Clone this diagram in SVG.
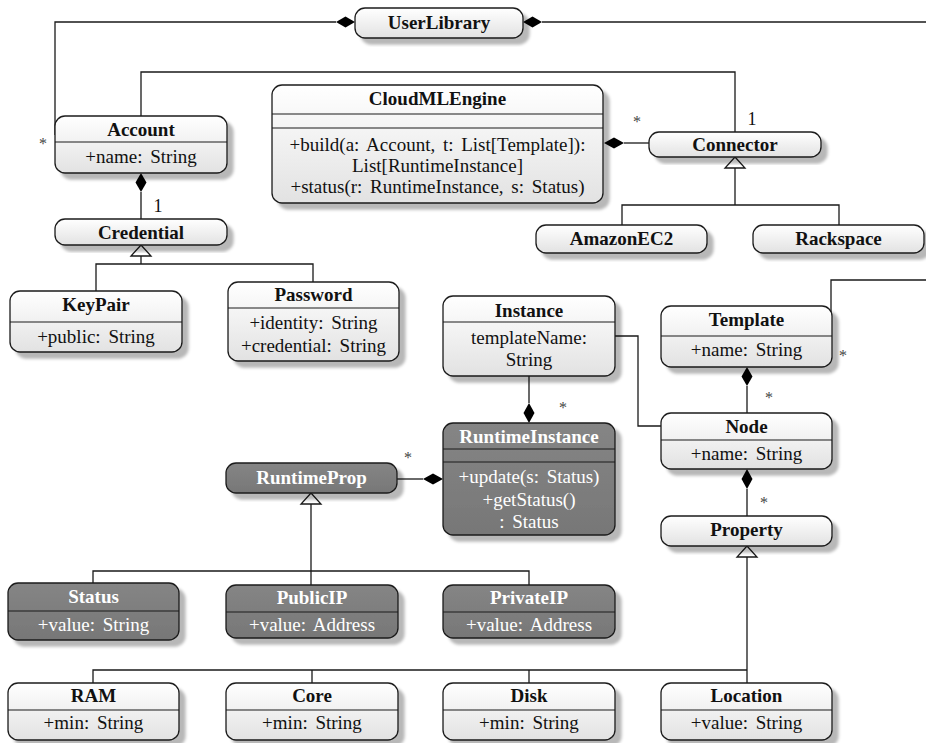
<svg xmlns="http://www.w3.org/2000/svg" width="926" height="743" viewBox="0 0 926 743">
<style>
.bx{stroke:#1a1a1a;stroke-width:1.3}
.w{fill:url(#gw)}
.d{fill:url(#gd)}
.dv{stroke:#1a1a1a;stroke-width:1.2}
.t{font-family:"Liberation Serif","Times New Roman",serif;font-size:19px;text-anchor:middle;fill:#111;word-spacing:3px}
.b{font-weight:bold;word-spacing:0}
.wt{fill:#fff}
.ln{stroke:#1a1a1a;stroke-width:1.3;fill:none}
.dm{fill:#000}
.tri{fill:#fff;stroke:#1a1a1a;stroke-width:1.3}
.m{font-family:"Liberation Serif","Times New Roman",serif;font-size:16px;fill:#444;text-anchor:middle}
.one{font-family:"Liberation Serif","Times New Roman",serif;font-size:18px;fill:#111;text-anchor:middle}
</style>
<defs>
<linearGradient id="gw" x1="0" y1="0" x2="0" y2="1"><stop offset="0" stop-color="#ffffff"/><stop offset="1" stop-color="#e2e2e2"/></linearGradient>
<linearGradient id="gd" x1="0" y1="0" x2="0" y2="1"><stop offset="0" stop-color="#858585"/><stop offset="1" stop-color="#777777"/></linearGradient>
<filter id="sh" x="-10%" y="-10%" width="130%" height="140%">
<feOffset in="SourceAlpha" dx="6" dy="6" result="o"/>
<feGaussianBlur in="o" stdDeviation="1.5" result="bl"/>
<feFlood flood-color="#000" flood-opacity="0.28"/>
<feComposite in2="bl" operator="in" result="s"/>
<feMerge><feMergeNode in="s"/><feMergeNode in="SourceGraphic"/></feMerge>
</filter>
</defs>

<g id="connectors">
<!-- UserLibrary left -->
<polyline class="ln" points="336,22 55,22 55,135"/>
<polygon class="dm" points="336,22 345.5,16.5 355,22 345.5,27.5"/>
<text class="m" x="43" y="149">*</text>
<!-- UserLibrary right -->
<polyline class="ln" points="542,22 926,22"/>
<polygon class="dm" points="523,22 532.5,16.5 542,22 532.5,27.5"/>
<!-- Account - Connector -->
<polyline class="ln" points="141,116 141,72 735,72 735,132"/>
<text class="one" x="752" y="125">1</text>
<!-- CloudMLEngine - Connector -->
<line class="ln" x1="624" y1="143" x2="649" y2="143"/>
<polygon class="dm" points="604,143 614,137.5 624,143 614,148.5"/>
<text class="m" x="637" y="127">*</text>
<!-- Connector generalization -->
<polyline class="ln" points="735,168 735,205"/>
<polyline class="ln" points="622,225 622,205 839,205 839,225"/>
<polygon class="tri" points="735,157 745,168 725,168"/>
<!-- Account - Credential -->
<line class="ln" x1="141" y1="192" x2="141" y2="219"/>
<polygon class="dm" points="141,173 146.5,182.5 141,192 135.5,182.5"/>
<text class="one" x="158" y="212">1</text>
<!-- Credential generalization -->
<line class="ln" x1="141" y1="256" x2="141" y2="264"/>
<polyline class="ln" points="96,291 96,264 313,264 313,282"/>
<polygon class="tri" points="141,245 151,256 131,256"/>
<!-- Instance - RuntimeInstance -->
<line class="ln" x1="529" y1="376" x2="529" y2="403"/>
<polygon class="dm" points="529,403 534.5,413 529,423 523.5,413"/>
<text class="m" x="563" y="413">*</text>
<!-- Instance - Node -->
<polyline class="ln" points="615,336 638,336 638,426 661,426"/>
<!-- Template - Node -->
<line class="ln" x1="747" y1="386" x2="747" y2="413"/>
<polygon class="dm" points="747,367 752.5,376.5 747,386 741.5,376.5"/>
<text class="m" x="769" y="403">*</text>
<!-- Template off-page -->
<polyline class="ln" points="831,335 831,280 926,280"/>
<text class="m" x="843" y="361">*</text>
<!-- Node - Property -->
<line class="ln" x1="747" y1="489" x2="747" y2="516"/>
<polygon class="dm" points="747,469 752.5,479 747,489 741.5,479"/>
<text class="m" x="764" y="508">*</text>
<!-- RuntimeInstance - RuntimeProp -->
<line class="ln" x1="397" y1="479" x2="423" y2="479"/>
<polygon class="dm" points="423,479 433,473.5 443,479 433,484.5"/>
<text class="m" x="408" y="463">*</text>
<!-- RuntimeProp generalization -->
<line class="ln" x1="311" y1="504" x2="311" y2="571"/>
<polyline class="ln" points="93,583 93,571 529,571 529,585"/>
<line class="ln" x1="311" y1="571" x2="311" y2="585"/>
<polygon class="tri" points="311,493 321,504 301,504"/>
<!-- Property generalization -->
<line class="ln" x1="747" y1="557" x2="747" y2="683"/>
<polyline class="ln" points="93,683 93,670 747,670"/>
<line class="ln" x1="312" y1="670" x2="312" y2="683"/>
<line class="ln" x1="529" y1="670" x2="529" y2="683"/>
<polygon class="tri" points="747,546 757,557 737,557"/>
</g>

<g id="UserLibrary">
<rect class="bx w" x="355" y="8" width="168" height="30" rx="10" filter="url(#sh)"/>
<text class="t b" x="439" y="29">UserLibrary</text>
</g>

<g id="Account">
<rect class="bx w" x="55" y="116" width="172" height="57" rx="10" filter="url(#sh)"/>
<line class="dv" x1="55" y1="142" x2="227" y2="142"/>
<text class="t b" x="141" y="136">Account</text>
<text class="t" x="141" y="163">+name: String</text>
</g>

<g id="CloudMLEngine">
<rect class="bx w" x="272" y="85" width="331" height="118" rx="10" filter="url(#sh)"/>
<line class="dv" x1="272" y1="114" x2="603" y2="114"/>
<line class="dv" x1="272" y1="128" x2="603" y2="128"/>
<text class="t b" x="437.5" y="105">CloudMLEngine</text>
<text class="t" x="437.5" y="151">+build(a: Account, t: List[Template]):</text>
<text class="t" x="437.5" y="172">List[RuntimeInstance]</text>
<text class="t" x="437.5" y="193">+status(r: RuntimeInstance, s: Status)</text>
</g>

<g id="Connector">
<rect class="bx w" x="649" y="132" width="172" height="25" rx="10" filter="url(#sh)"/>
<text class="t b" x="735" y="151">Connector</text>
</g>

<g id="AmazonEC2">
<rect class="bx w" x="536" y="225" width="171" height="28" rx="10" filter="url(#sh)"/>
<text class="t b" x="621.5" y="245">AmazonEC2</text>
</g>

<g id="Rackspace">
<rect class="bx w" x="753" y="225" width="171" height="28" rx="10" filter="url(#sh)"/>
<text class="t b" x="838.5" y="245">Rackspace</text>
</g>

<g id="Credential">
<rect class="bx w" x="55" y="219" width="172" height="26" rx="10" filter="url(#sh)"/>
<text class="t b" x="141" y="239">Credential</text>
</g>

<g id="KeyPair">
<rect class="bx w" x="10" y="291" width="172" height="61" rx="10" filter="url(#sh)"/>
<line class="dv" x1="10" y1="322" x2="182" y2="322"/>
<text class="t b" x="96" y="311">KeyPair</text>
<text class="t" x="96" y="343">+public: String</text>
</g>

<g id="Password">
<rect class="bx w" x="228" y="282" width="171" height="79" rx="10" filter="url(#sh)"/>
<line class="dv" x1="228" y1="308" x2="399" y2="308"/>
<text class="t b" x="313.5" y="301">Password</text>
<text class="t" x="313.5" y="329">+identity: String</text>
<text class="t" x="313.5" y="352">+credential: String</text>
</g>

<g id="Instance">
<rect class="bx w" x="443" y="296" width="172" height="80" rx="10" filter="url(#sh)"/>
<line class="dv" x1="443" y1="322" x2="615" y2="322"/>
<text class="t b" x="529" y="317">Instance</text>
<text class="t" x="529" y="344">templateName:</text>
<text class="t" x="529" y="366">String</text>
</g>

<g id="Template">
<rect class="bx w" x="661" y="306" width="171" height="61" rx="10" filter="url(#sh)"/>
<line class="dv" x1="661" y1="336" x2="832" y2="336"/>
<text class="t b" x="746.5" y="326">Template</text>
<text class="t" x="746.5" y="356">+name: String</text>
</g>

<g id="Node">
<rect class="bx w" x="661" y="413" width="171" height="56" rx="10" filter="url(#sh)"/>
<line class="dv" x1="661" y1="440" x2="832" y2="440"/>
<text class="t b" x="746.5" y="433">Node</text>
<text class="t" x="746.5" y="460">+name: String</text>
</g>

<g id="Property">
<rect class="bx w" x="661" y="516" width="171" height="30" rx="10" filter="url(#sh)"/>
<text class="t b" x="746.5" y="536">Property</text>
</g>

<g id="RuntimeInstance">
<rect class="bx d" x="443" y="423" width="172" height="112" rx="10" filter="url(#sh)"/>
<line class="dv" x1="443" y1="449" x2="615" y2="449"/>
<line class="dv" x1="443" y1="462" x2="615" y2="462"/>
<text class="t b wt" x="529" y="443">RuntimeInstance</text>
<text class="t wt" x="529" y="483">+update(s: Status)</text>
<text class="t wt" x="529" y="506">+getStatus()</text>
<text class="t wt" x="529" y="528">: Status</text>
</g>

<g id="RuntimeProp">
<rect class="bx d" x="226" y="463" width="171" height="30" rx="10" filter="url(#sh)"/>
<text class="t b wt" x="311.5" y="484">RuntimeProp</text>
</g>

<g id="Status">
<rect class="bx d" x="8" y="583" width="171" height="57" rx="10" filter="url(#sh)"/>
<line class="dv" x1="8" y1="611" x2="179" y2="611"/>
<text class="t b wt" x="93.5" y="603">Status</text>
<text class="t wt" x="93.5" y="631">+value: String</text>
</g>

<g id="PublicIP">
<rect class="bx d" x="226" y="585" width="172" height="53" rx="10" filter="url(#sh)"/>
<line class="dv" x1="226" y1="612" x2="398" y2="612"/>
<text class="t b wt" x="312" y="604">PublicIP</text>
<text class="t wt" x="312" y="631">+value: Address</text>
</g>

<g id="PrivateIP">
<rect class="bx d" x="443" y="585" width="172" height="53" rx="10" filter="url(#sh)"/>
<line class="dv" x1="443" y1="612" x2="615" y2="612"/>
<text class="t b wt" x="529" y="604">PrivateIP</text>
<text class="t wt" x="529" y="631">+value: Address</text>
</g>

<g id="RAM">
<rect class="bx w" x="8" y="683" width="171" height="57" rx="10" filter="url(#sh)"/>
<line class="dv" x1="8" y1="710" x2="179" y2="710"/>
<text class="t b" x="93.5" y="702">RAM</text>
<text class="t" x="93.5" y="729">+min: String</text>
</g>

<g id="Core">
<rect class="bx w" x="226" y="683" width="172" height="57" rx="10" filter="url(#sh)"/>
<line class="dv" x1="226" y1="710" x2="398" y2="710"/>
<text class="t b" x="312" y="702">Core</text>
<text class="t" x="312" y="729">+min: String</text>
</g>

<g id="Disk">
<rect class="bx w" x="443" y="683" width="172" height="57" rx="10" filter="url(#sh)"/>
<line class="dv" x1="443" y1="710" x2="615" y2="710"/>
<text class="t b" x="529" y="702">Disk</text>
<text class="t" x="529" y="729">+min: String</text>
</g>

<g id="Location">
<rect class="bx w" x="661" y="683" width="171" height="57" rx="10" filter="url(#sh)"/>
<line class="dv" x1="661" y1="710" x2="832" y2="710"/>
<text class="t b" x="746.5" y="702">Location</text>
<text class="t" x="746.5" y="729">+value: String</text>
</g>
</svg>
